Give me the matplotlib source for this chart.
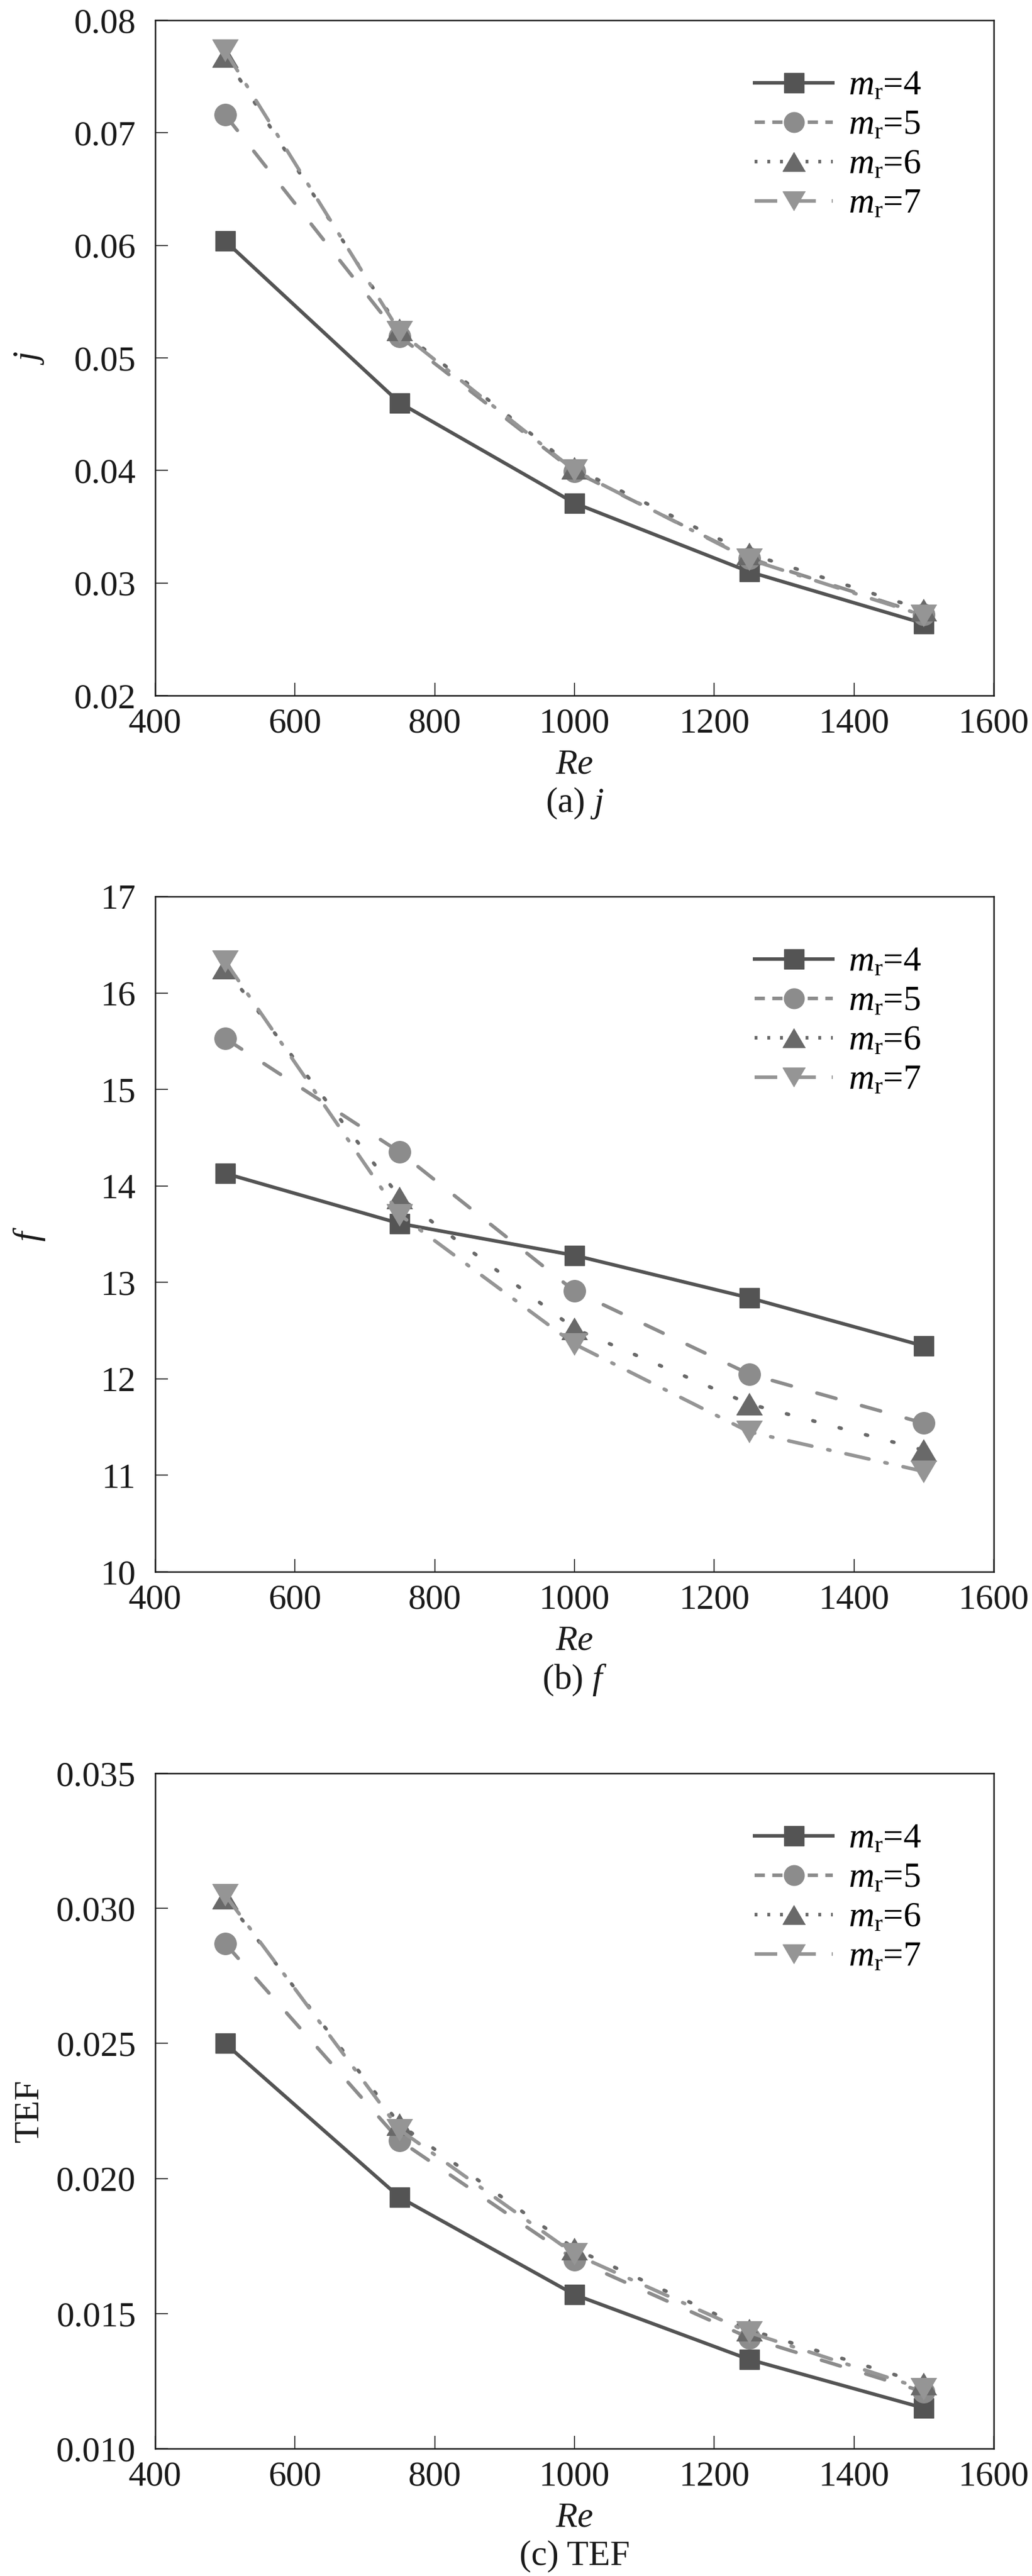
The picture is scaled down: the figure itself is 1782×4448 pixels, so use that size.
import matplotlib
matplotlib.use("Agg")
import matplotlib.pyplot as plt
from matplotlib.lines import Line2D
from matplotlib.ticker import FixedLocator, FixedFormatter

plt.rcParams['font.family'] = ['Liberation Serif', 'DejaVu Serif']
plt.rcParams['mathtext.fontset'] = 'custom'
plt.rcParams['mathtext.rm'] = 'Liberation Serif'
plt.rcParams['mathtext.it'] = 'Liberation Serif:italic'

# ---------------- data ----------------
re_values = [500, 750, 1000, 1250, 1500]
series_labels = ["$m_\\mathrm{r}$=4", "$m_\\mathrm{r}$=5", "$m_\\mathrm{r}$=6", "$m_\\mathrm{r}$=7"]

j_m4 = [0.0604, 0.0460, 0.0371, 0.0310, 0.0264]
j_m5 = [0.0716, 0.0519, 0.0399, 0.0322, 0.0272]
j_m6 = [0.0768, 0.0525, 0.0402, 0.0326, 0.0276]
j_m7 = [0.0773, 0.0523, 0.0400, 0.0321, 0.0271]

f_m4 = [14.13, 13.61, 13.28, 12.84, 12.34]
f_m5 = [15.53, 14.35, 12.91, 12.05, 11.54]
f_m6 = [16.26, 13.88, 12.52, 11.74, 11.26]
f_m7 = [16.33, 13.70, 12.36, 11.45, 11.04]

tef_m4 = [0.0250, 0.0193, 0.0157, 0.0133, 0.0115]
tef_m5 = [0.0287, 0.0214, 0.0170, 0.0141, 0.0121]
tef_m6 = [0.0304, 0.0220, 0.0174, 0.0144, 0.0124]
tef_m7 = [0.0305, 0.0218, 0.0172, 0.0143, 0.0122]

x_ticks = [400, 600, 800, 1000, 1200, 1400, 1600]
j_ticks = [0.02, 0.03, 0.04, 0.05, 0.06, 0.07, 0.08]
j_tick_labels = ["0.02", "0.03", "0.04", "0.05", "0.06", "0.07", "0.08"]
f_ticks = [10, 11, 12, 13, 14, 15, 16, 17]
f_tick_labels = ["10", "11", "12", "13", "14", "15", "16", "17"]
tef_ticks = [0.010, 0.015, 0.020, 0.025, 0.030, 0.035]
tef_tick_labels = ["0.010", "0.015", "0.020", "0.025", "0.030", "0.035"]

panels = [
    dict(series=[j_m4, j_m5, j_m6, j_m7], ticks=j_ticks, tlabels=j_tick_labels,
         ylabel="$j$", caption="(a) $j$"),
    dict(series=[f_m4, f_m5, f_m6, f_m7], ticks=f_ticks, tlabels=f_tick_labels,
         ylabel="$f$", caption="(b) $f$"),
    dict(series=[tef_m4, tef_m5, tef_m6, tef_m7], ticks=tef_ticks, tlabels=tef_tick_labels,
         ylabel="TEF", caption="(c) TEF"),
]

# ---------------- styles ----------------
W, H = 1782, 4448
DPI = 100
LW = 4.4
colors = ['#545454', '#8c8c8c', '#696969', '#959595']
tri_up = [(0, 0.85), (-1, -0.85), (1, -0.85)]
tri_down = [(0, -0.85), (-1, 0.85), (1, 0.85)]
markers = ['s', 'o', tri_up, tri_down]
msizes = [24, 27, 32, 32]
leg_msizes = [24, 25, 28, 28]
plot_styles = ['-', (0, (5.6, 7.5)), (0, (0.6, 7.1)), (0, (6.7, 4.6, 0.65, 4.6))]
legend_styles = ['-', (0, (2.9, 2.1)), (0, (0.8, 2.8)), (0, (6.4, 4.5))]

fig = plt.figure(figsize=(W / DPI, H / DPI), dpi=DPI)

ax_left = 268 / W
ax_width = (1716 - 268) / W
ax_height = 1166 / H
tops = [35, 1548, 3062]

for p, top in zip(panels, tops):
    bottom = 1 - (top + 1166) / H
    ax = fig.add_axes([ax_left, bottom, ax_width, ax_height])
    for k, ys in enumerate(p['series']):
        ax.plot(re_values, ys, color=colors[k], lw=LW, ls=plot_styles[k],
                marker=markers[k], ms=msizes[k], mfc=colors[k], mec=colors[k],
                mew=1.0, dash_capstyle='round', solid_capstyle='round',
                zorder=3 + k)
    ax.set_xlim(400, 1600)
    ax.set_ylim(p['ticks'][0], p['ticks'][-1])
    ax.xaxis.set_major_locator(FixedLocator(x_ticks))
    ax.yaxis.set_major_locator(FixedLocator(p['ticks']))
    ax.yaxis.set_major_formatter(FixedFormatter(p['tlabels']))
    ax.tick_params(axis='both', direction='in', length=16, width=1.2,
                   labelsize=44, colors='#1a1a1a')
    ax.tick_params(axis='x', pad=15)
    ax.tick_params(axis='y', pad=24)
    for s in ax.spines.values():
        s.set_linewidth(1.8)
        s.set_color('#1a1a1a')

    ax.text(-0.150, 0.5, p['ylabel'], transform=ax.transAxes, rotation=90,
            ha='center', va='center', fontsize=44, color='#1a1a1a')
    ax.text(0.5, -0.103, "$Re$", transform=ax.transAxes, ha='center', va='center',
            fontsize=44, color='#1a1a1a')
    ax.text(0.5, -0.160, p['caption'], transform=ax.transAxes, ha='center', va='center',
            fontsize=44, color='#1a1a1a')

    handles = [Line2D([], [], color=colors[k], lw=LW, ls=legend_styles[k],
                      marker=markers[k], ms=leg_msizes[k], mfc=colors[k], mec=colors[k])
               for k in range(4)]
    ax.legend(handles, series_labels, loc='upper left', bbox_to_anchor=(0.715, 0.926),
              frameon=False, fontsize=44, handlelength=2.2, handletextpad=0.45,
              labelspacing=0.2, borderpad=0, borderaxespad=0)

fig.savefig("out.png", dpi=DPI)
